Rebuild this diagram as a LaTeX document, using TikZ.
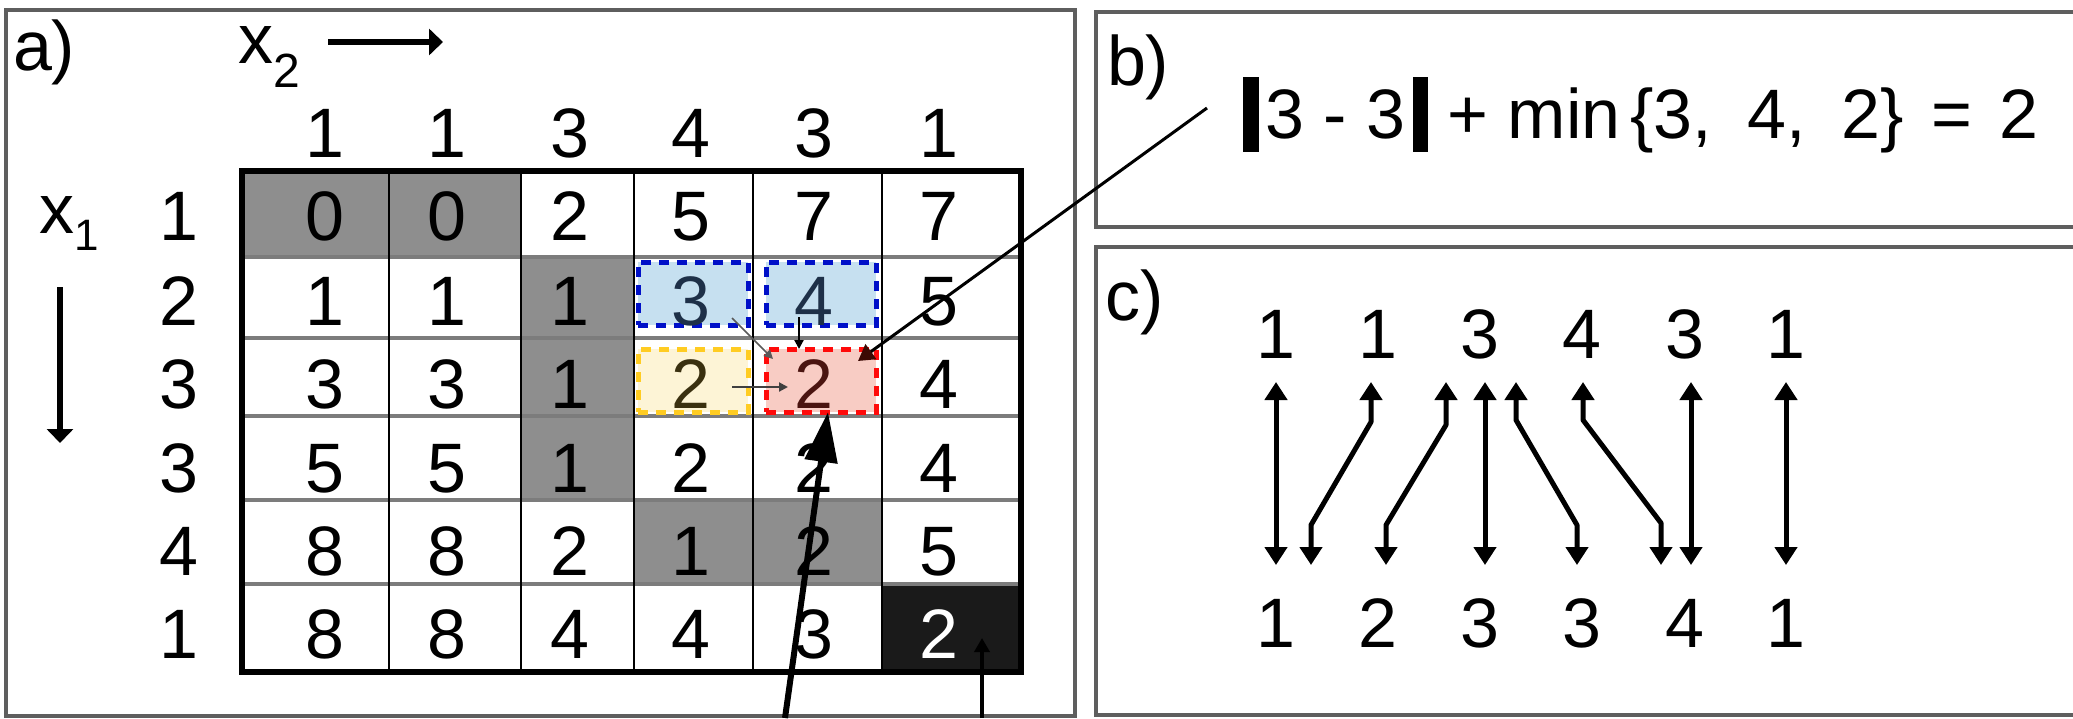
\documentclass[tikz,border=0pt]{standalone}
\usepackage{fontspec}
\setmainfont{Liberation Sans}
\usetikzlibrary{arrows.meta,calc}

\definecolor{cellgray}{HTML}{8E8E8E}
\definecolor{panelgray}{HTML}{5E5E5E}
\definecolor{gridgray}{HTML}{7C7C7C}
\definecolor{bluefill}{HTML}{C6E0F0}
\definecolor{blueedge}{HTML}{0010C8}
\definecolor{yellowfill}{HTML}{FDF4D6}
\definecolor{yellowedge}{HTML}{FFCC22}
\definecolor{redfill}{HTML}{F8CCC4}
\definecolor{rededge}{HTML}{FF0A0A}
\definecolor{darkred}{HTML}{3C0A04}
\definecolor{navytext}{HTML}{1E3048}
\definecolor{browntext}{HTML}{3A3010}
\definecolor{redtext}{HTML}{4A1410}
\definecolor{blackcell}{HTML}{1A1A1A}

\begin{document}
\begin{tikzpicture}[x=1pt,y=-1pt,
  big/.style={font=\fontsize{70}{80}\selectfont, inner sep=0pt, outer sep=0pt, anchor=base},
  panel/.style={draw=panelgray, line width=3.5pt},
  hilite/.style={minimum width=110pt, minimum height=63pt, inner sep=0pt, outer sep=0pt,
    line width=5pt, dash pattern=on 10pt off 8pt},
  axisarrow/.style={line width=6pt, -{Triangle[length=14pt,width=26pt]}},
  dbl/.style={line width=5pt, line join=round,
    {Triangle[length=18pt,width=22pt]}-{Triangle[length=18pt,width=22pt]}},
  smallarrow/.style={line width=2pt, -{Triangle[length=9pt,width=9pt]}},
]
\useasboundingbox (0,0) rectangle (2073,718);
\fill[white] (0,0) rectangle (2073,718);

% panels
\draw[panel] (6,10) rectangle (1075,716);
\draw[panel] (2090,12) -- (1096,12) -- (1096,227) -- (2090,227);
\draw[panel] (2090,247) -- (1096,247) -- (1096,715) -- (2090,715);

% panel labels
\node[big, anchor=base west] (la) at (13,70) {a)};
\node[big, anchor=base west] (lb) at (1107,85) {b)};
\node[big, anchor=base west] (lc) at (1105,320) {c)};

% axis labels
\node[big, anchor=base west] (xtwo) at (238,63) {x\raisebox{-24pt}{\fontsize{48}{50}\selectfont 2}};
\node[big, anchor=base west] (xone) at (39,233) {x\raisebox{-17pt}{\fontsize{44}{50}\selectfont 1}};
\coordinate (x2s) at (328,42);
\coordinate (x2e) at (443,42);
\draw[axisarrow] (x2s) -- (x2e);
\coordinate (x1s) at (60,287);
\coordinate (x1e) at (60,443);
\draw[axisarrow] (x1s) -- (x1e);

% cell fills
\fill[cellgray] (242,171) rectangle (521,257);
\fill[cellgray] (521,257) rectangle (634,500);
\fill[cellgray] (634,500) rectangle (882,584);
\fill[blackcell] (882,584) rectangle (1021,672);

% grid lines
\foreach \yy in {257,338,416,500,584}
  \draw[gridgray, line width=4.5pt] (242,\yy) -- (1021,\yy);
\foreach \xx in {389,521,634,753,882}
  \draw[black, line width=2pt] (\xx,171) -- (\xx,672);
\draw[black, line width=6pt] (242,171) rectangle (1021,672);

% highlighted cells
\node[hilite, draw=blueedge, fill=bluefill] (blueA) at (693,293.5) {};
\node[hilite, draw=blueedge, fill=bluefill] (blueB) at (821,293.5) {};
\node[hilite, draw=yellowedge, fill=yellowfill] (yel) at (693,380.5) {};
\node[hilite, draw=rededge, fill=redfill] (red) at (821,380.5) {};

% headers
\foreach \v [count=\c] in {1,1,3,4,3,1} {
  \pgfmathsetmacro\xx{{325,447,570,691,814,939}[\c-1]}
  \node[big] (h\c) at (\xx,157) {\v};
}
\foreach \v/\yy [count=\r] in {1/240,2/325,3/408,3/492,4/575,1/658}
  \node[big] (r\r) at (179,\yy) {\v};

% cell values
\foreach \r/\yy/\vals in {1/240/{0,0,2,5,7,7},2/325/{1,1,1,3,4,5},3/408/{3,3,1,2,2,4},
                          4/492/{5,5,1,2,2,4},5/575/{8,8,2,1,2,5},6/658/{8,8,4,4,3,2}} {
  \foreach \v [count=\c] in \vals {
    \pgfmathsetmacro\xx{{325,447,570,691,814,939}[\c-1]}
    \def\tc{black}
    \ifnum\r\c=24 \def\tc{navytext}\fi
    \ifnum\r\c=25 \def\tc{navytext}\fi
    \ifnum\r\c=34 \def\tc{browntext}\fi
    \ifnum\r\c=35 \def\tc{redtext}\fi
    \ifnum\r\c=66 \def\tc{white}\fi
    \node[big, text=\tc] (c\r\c) at (\xx,\yy) {\v};
  }
}

% small arrows in the highlighted block
\draw[smallarrow, draw=black!65, line width=1.5pt] ([shift={(-16,-7)}]blueA.south east) -- ([shift={(7,10)}]red.north west);
\draw[smallarrow] ([shift={(33,-8)}]blueB.south west) -- ([shift={(33,0)}]red.north west);
\draw[smallarrow, draw=black!75] ([shift={(-16,6.5)}]yel.east) -- ([shift={(22,6.5)}]red.west);

% arrow from formula to red cell
\coordinate (fstart) at (1207,108);
\draw[line width=3pt, -{Triangle[length=16pt,width=18pt,color=darkred]}] (fstart) -- ([shift={(-18,12)}]red.north east);

% arrows from bottom
\coordinate (bigtail) at (785,718);
\draw[line width=6pt, -{Triangle[length=50pt,width=32pt]}] (bigtail) -- ([shift={(7,0)}]red.south);
\coordinate (endtail) at (982,718);
\draw[line width=4pt, -{Triangle[length=14pt,width=15pt]}] (endtail) -- ([shift={(43,-20)}]c66.base);

% panel b formula
\node[big, anchor=base west] (formula) at (1243,138)
  {\rule[-14pt]{16pt}{75pt}\hspace{6pt}3 - 3\hspace{8pt}\rule[-14pt]{15pt}{75pt} + min\hspace{10pt}\{3,\hspace{16pt} 4,\hspace{16pt} 2\}\hspace{8pt} =\hspace{8pt} 2};

% panel c
\foreach \v [count=\c] in {1,1,3,4,3,1} {
  \pgfmathsetmacro\xx{{1276,1378,1480,1582,1685,1786}[\c-1]}
  \node[big] (t\c) at (\xx,358) {\v};
}
\foreach \v [count=\c] in {1,2,3,3,4,1} {
  \pgfmathsetmacro\xx{{1276,1378,1480,1582,1685,1786}[\c-1]}
  \node[big] (b\c) at (\xx,647) {\v};
}
\draw[dbl] ([shift={(0,24)}]t1.base) -- ([shift={(0,-82)}]b1.base);
\draw[dbl] ([shift={(-7,24)}]t2.base) -- ++(0,40) -- ($([shift={(35,-82)}]b1.base)+(0,-40)$) -- ([shift={(35,-82)}]b1.base);
\draw[dbl] ([shift={(-34,24)}]t3.base) -- ++(0,43) -- ($([shift={(8,-82)}]b2.base)+(0,-40)$) -- ([shift={(8,-82)}]b2.base);
\draw[dbl] ([shift={(5,24)}]t3.base) -- ([shift={(5,-82)}]b3.base);
\draw[dbl] ([shift={(36,24)}]t3.base) -- ++(0,38) -- ($([shift={(-5,-82)}]b4.base)+(0,-40)$) -- ([shift={(-5,-82)}]b4.base);
\draw[dbl] ([shift={(1,24)}]t4.base) -- ++(0,38) -- ($([shift={(-24,-82)}]b5.base)+(0,-42)$) -- ([shift={(-24,-82)}]b5.base);
\draw[dbl] ([shift={(6,24)}]t5.base) -- ([shift={(6,-82)}]b5.base);
\draw[dbl] ([shift={(0,24)}]t6.base) -- ([shift={(0,-82)}]b6.base);
\end{tikzpicture}
\end{document}
